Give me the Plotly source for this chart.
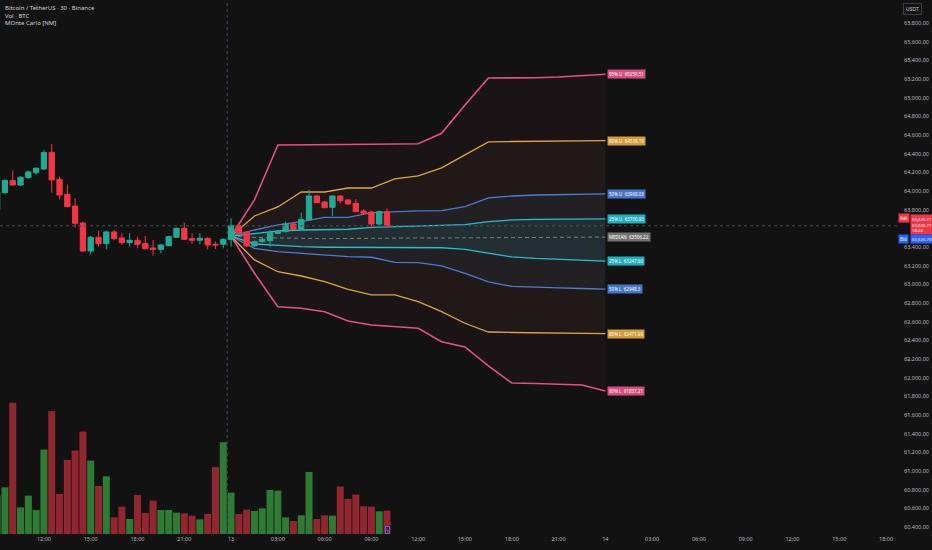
import plotly.graph_objects as go
import pandas as pd

# ---------------- data ----------------
bar_start = "2025-04-12 09:00"
opens = [63797, 63982, 64111, 64064, 64143, 64196, 64236, 64414, 64125, 63964,
         63839, 63657, 63357, 63504, 63436, 63561, 63497, 63447, 63472, 63436,
         63389, 63375, 63414, 63504, 63600, 63489, 63472, 63493, 63429, 63429,
         63480, 63628, 63557, 63411, 63457, 63468, 63546, 63564, 63646, 63589,
         63689, 63946, 63882, 63825, 63946, 63904, 63868, 63786, 63775, 63646,
         63779]
highs = [64010, 64125, 64218, 64161, 64218, 64254, 64439, 64504, 64154, 64071,
         63922, 63672, 63518, 63575, 63575, 63582, 63547, 63547, 63511, 63518,
         63475, 63432, 63518, 63607, 63661, 63547, 63547, 63504, 63457, 63493,
         63707, 63654, 63564, 63468, 63497, 63582, 63582, 63671, 63661, 63768,
         64011, 63957, 63893, 63954, 63954, 63911, 63911, 63804, 63789, 63789,
         63814]
lows = [63760, 63968, 64057, 64054, 64132, 64175, 64225, 63982, 63914, 63825,
        63611, 63350, 63325, 63404, 63375, 63475, 63422, 63404, 63386, 63375,
        63307, 63332, 63407, 63497, 63475, 63432, 63429, 63375, 63379, 63386,
        63404, 63529, 63397, 63404, 63447, 63397, 63539, 63557, 63582, 63582,
        63682, 63868, 63814, 63732, 63868, 63854, 63771, 63754, 63600, 63636,
        63625]
closes = [63993, 64111, 64064, 64146, 64204, 64243, 64411, 64118, 63957, 63832,
          63654, 63357, 63504, 63436, 63561, 63489, 63447, 63472, 63429, 63382,
          63375, 63422, 63511, 63600, 63482, 63472, 63493, 63422, 63422, 63482,
          63628, 63546, 63411, 63457, 63482, 63557, 63564, 63646, 63589, 63696,
          63946, 63875, 63821, 63946, 63896, 63861, 63779, 63761, 63646, 63779,
          63626.71]
volumes = [460, 560, 1572, 320, 460, 288, 1012, 1472, 480, 888,
           1000, 1228, 880, 576, 692, 200, 328, 180, 468, 252,
           400, 288, 288, 256, 248, 220, 176, 240, 804, 1100,
           496, 240, 292, 276, 308, 528, 520, 200, 156, 224,
           744, 180, 224, 220, 568, 420, 472, 332, 328, 272, 280]

fan_start = "2025-04-13 00:00"
fan_95_u = [63515, 63904, 64493, 64493, 64498, 64498, 64500, 64504, 64506, 64618,
            64921, 65211, 65211, 65213, 65221, 65237, 65250.51]
fan_80_u = [63515, 63732, 63829, 63989, 63989, 64032, 64032, 64129, 64161, 64247,
            64386, 64525, 64530, 64534, 64536, 64537, 64539.19]
fan_50_u = [63515, 63582, 63636, 63671, 63718, 63718, 63768, 63778, 63786, 63789,
            63832, 63925, 63946, 63957, 63962, 63966, 63968.03]
fan_25_u = [63515, 63547, 63571, 63582, 63582, 63590, 63611, 63618, 63625, 63628,
            63639, 63672, 63690, 63695, 63698, 63700, 63700.93]
fan_median = [63515, 63502, 63497, 63491, 63489, 63491, 63495, 63497, 63497, 63496,
              63498, 63502, 63501, 63505, 63509, 63507, 63506.22]
fan_25_l = [63515, 63432, 63418, 63403, 63397, 63397, 63393, 63393, 63393, 63392,
            63375, 63336, 63293, 63277, 63266, 63255, 63247.60]
fan_50_l = [63515, 63386, 63350, 63333, 63314, 63296, 63290, 63236, 63232, 63197,
            63118, 63025, 62977, 62966, 62961, 62955, 62948.3]
fan_80_l = [63515, 63261, 63135, 63089, 63028, 62947, 62886, 62886, 62814, 62707,
            62583, 62489, 62484, 62480, 62477, 62474, 62471.99]
fan_95_l = [63515, 63118, 62760, 62743, 62707, 62607, 62564, 62546, 62529, 62385,
            62329, 62125, 61943, 61938, 61932, 61922, 61857.21]

band_labels = ["95% U", "80% U", "50% U", "25% U", "MEDIAN", "25% L", "50% L", "80% L", "95% L"]
band_label_values = ["65250.51", "64539.19", "63968.03", "63700.93", "63506.22",
                     "63247.60", "62948.3", "62471.99", "61857.21"]

tick_start = "2025-04-12 12:00"
tick_labels = ["12:00", "15:00", "18:00", "21:00", "13", "03:00", "06:00", "09:00",
               "12:00", "15:00", "18:00", "21:00", "14", "03:00", "06:00", "09:00",
               "12:00", "15:00", "18:00"]
price_ticks = list(range(60400, 65801, 200))
hidden_price_tick = 63600  # covered by the live price badge

header_lines = ["Bitcoin / TetherUS · 30 · Binance", "Vol · BTC", "MOnte Carlo [NM]"]
ask_price = "63,626.71"
bid_price = "63,626.70"
countdown = "18:24"

# ---------------- derived ----------------
bar_times = pd.date_range(bar_start, periods=len(closes), freq="30min")
fan_times = pd.date_range(fan_start, periods=len(fan_median), freq="90min")
tick_times = pd.date_range(tick_start, periods=len(tick_labels), freq="3h")

UP, DOWN = "#22ab94", "#f23645"
VOL_UP, VOL_DOWN = "#2f7a34", "#8f2630"
BG = "#121212"
TXT = "#b2b5be"
FONT = "Noto Sans"

C95, C80, C50, C25, CMED = "#e4507f", "#e0a43b", "#4a7dd1", "#2bbccd", "#7e7e7e"

fig = go.Figure()

ft = list(fan_times)
bands = [
    (fan_95_u, fan_95_l, "rgba(228,80,127,0.04)"),
    (fan_80_u, fan_80_l, "rgba(224,164,59,0.04)"),
    (fan_50_u, fan_50_l, "rgba(74,125,209,0.07)"),
    (fan_25_u, fan_25_l, "rgba(43,188,205,0.09)"),
]
for up, lo, col in bands:
    fig.add_trace(go.Scatter(
        x=ft + ft[::-1], y=list(up) + list(lo)[::-1],
        fill="toself", fillcolor=col, line=dict(width=0),
        mode="lines", hoverinfo="skip", showlegend=False))

lines = [
    (fan_95_u, C95, 1.6, "solid"), (fan_95_l, C95, 1.6, "solid"),
    (fan_80_u, C80, 1.3, "solid"), (fan_80_l, C80, 1.3, "solid"),
    (fan_50_u, C50, 1.3, "solid"), (fan_50_l, C50, 1.3, "solid"),
    (fan_25_u, C25, 1.3, "solid"), (fan_25_l, C25, 1.3, "solid"),
    (fan_median, CMED, 1.0, "4px,3px"),
]
for vals, col, w, dash in lines:
    fig.add_trace(go.Scatter(x=ft, y=vals, mode="lines",
                             line=dict(color=col, width=w, dash=dash),
                             hoverinfo="skip", showlegend=False))

vol_colors = [VOL_UP if c >= o else VOL_DOWN for o, c in zip(opens, closes)]
fig.add_trace(go.Bar(x=bar_times, y=volumes, marker=dict(color=vol_colors, line=dict(width=0)),
                     yaxis="y2", showlegend=False, hoverinfo="skip"))

fig.add_trace(go.Candlestick(
    x=bar_times, open=opens, high=highs, low=lows, close=closes,
    increasing=dict(line=dict(color=UP, width=1), fillcolor=UP),
    decreasing=dict(line=dict(color=DOWN, width=1), fillcolor=DOWN),
    whiskerwidth=0, yaxis="y3", showlegend=False, hoverinfo="skip"))

x0 = pd.Timestamp(bar_start) + pd.Timedelta(minutes=11)
x1 = pd.Timestamp(bar_start) + pd.Timedelta(hours=57, minutes=46)
yr = [60325, 66046]

fig.update_layout(
    width=932, height=550,
    margin=dict(l=0, r=34, t=0, b=16),
    paper_bgcolor=BG, plot_bgcolor=BG,
    font=dict(family=FONT, color=TXT, size=6),
    bargap=0.1, boxgap=0.32, boxgroupgap=0,
    showlegend=False,
    xaxis=dict(range=[x0, x1], type="date", showgrid=False, zeroline=False,
               tickvals=list(tick_times), ticktext=tick_labels, ticks="",
               tickfont=dict(size=5.5, color=TXT), rangeslider=dict(visible=False),
               showline=False, automargin=False),
    yaxis=dict(range=yr, side="right", showgrid=False, zeroline=False,
               tickvals=price_ticks,
               ticktext=["" if v == hidden_price_tick else f"{v:,.2f}" for v in price_ticks],
               ticks="", tickfont=dict(size=5.5, color=TXT), ticklabelstandoff=5,
               showline=False, automargin=False),
    yaxis2=dict(range=[0, 6400], overlaying="y", visible=False, fixedrange=True),
    yaxis3=dict(range=yr, overlaying="y", visible=False),
)

# session break and price line
fig.add_shape(type="line", xref="x", yref="paper",
              x0=pd.Timestamp(fan_start) - pd.Timedelta(minutes=15),
              x1=pd.Timestamp(fan_start) - pd.Timedelta(minutes=15),
              y0=0, y1=1, line=dict(color="#3d4d6b", width=1, dash="dot"))
fig.add_shape(type="line", xref="paper", yref="y", x0=0, x1=1,
              y0=closes[-1], y1=closes[-1], line=dict(color="#4a4d55", width=1, dash="dot"))

# band labels
label_bgs = ["#d64d7e", "#d29c3a", "#4675c6", "#23aebf", "#737373",
             "#23aebf", "#4675c6", "#d29c3a", "#d64d7e"]
label_vals = [fan_95_u[-1], fan_80_u[-1], fan_50_u[-1], fan_25_u[-1], fan_median[-1],
              fan_25_l[-1], fan_50_l[-1], fan_80_l[-1], fan_95_l[-1]]
for name, txt, val, bg in zip(band_labels, band_label_values, label_vals, label_bgs):
    fig.add_annotation(x=fan_times[-1], y=val, xref="x", yref="y",
                       text=f"{name}  {txt}", showarrow=False, xanchor="left", xshift=2,
                       font=dict(size=4.5, color="#ffffff", family=FONT),
                       bgcolor=bg, borderpad=1)

# header
for i, t in enumerate(header_lines):
    fig.add_annotation(x=0, y=1, xref="paper", yref="paper", xanchor="left", yanchor="top",
                       xshift=3, yshift=-2 - 7.5 * i, text=t, showarrow=False,
                       font=dict(size=6, color="#d1d4dc", family=FONT))

# USDT box
fig.add_annotation(x=1, y=1, xref="paper", yref="paper", xanchor="left", yanchor="top",
                   xshift=5, yshift=-3, text="USDT", showarrow=False,
                   font=dict(size=5, color="#d1d4dc", family=FONT),
                   bordercolor="#3a3d45", borderwidth=1, borderpad=2, bgcolor=BG)

# Ask / Bid / current price
fig.add_annotation(x=1, y=closes[-1], xref="paper", yref="y", xanchor="left",
                   xshift=0, yshift=8, text="Ask", showarrow=False,
                   font=dict(size=4.5, color="#ffffff", family=FONT), bgcolor=DOWN, borderpad=1)
fig.add_annotation(x=1, y=closes[-1], xref="paper", yref="y", xanchor="left",
                   xshift=12, yshift=1, text=f"{ask_price}<br>{ask_price}<br>{countdown}",
                   showarrow=False, align="left",
                   font=dict(size=4.3, color="#ffffff", family=FONT), bgcolor=DOWN, borderpad=1)
fig.add_annotation(x=1, y=closes[-1], xref="paper", yref="y", xanchor="left",
                   xshift=0, yshift=-13, text="Bid", showarrow=False,
                   font=dict(size=4.5, color="#ffffff", family=FONT), bgcolor="#2962ff", borderpad=1)
fig.add_annotation(x=1, y=closes[-1], xref="paper", yref="y", xanchor="left",
                   xshift=12, yshift=-13, text=bid_price, showarrow=False,
                   font=dict(size=4.3, color="#ffffff", family=FONT), bgcolor="#2962ff", borderpad=1)

# small indicator icon under last bar
fig.add_annotation(x=bar_times[-1], y=0, xref="x", yref="paper", yanchor="bottom",
                   text="ϟ", showarrow=False, font=dict(size=5, color="#b388ff"),
                   bordercolor="#7e57c2", borderwidth=1, borderpad=0, bgcolor="#1a1420")

fig.write_html("out.html", config={"displayModeBar": False},
               post_script="document.body.style.margin='0';document.body.style.background='#121212';")
